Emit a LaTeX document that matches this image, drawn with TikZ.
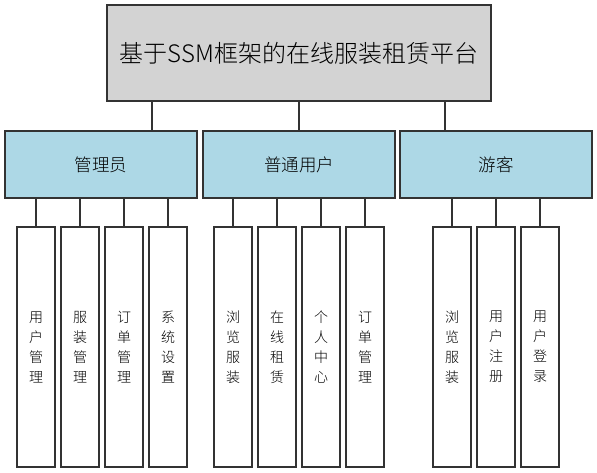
\documentclass[tikz,border=0pt]{standalone}
\usepackage{fontspec}
\setmainfont{Noto Sans CJK SC}[UprightFont={* Light}]
\definecolor{topfill}{HTML}{D3D3D3}
\definecolor{midfill}{HTML}{ADD8E6}
\definecolor{edge}{HTML}{333333}
\begin{document}
\begin{tikzpicture}[x=1pt,y=-1pt,
  box/.style={draw=edge,line width=1.2pt,inner sep=0pt,outer sep=0pt},
  topbox/.style={box,fill=topfill,minimum width=384pt,minimum height=96pt,font=\fontsize{24}{28}\selectfont},
  midbox/.style={box,fill=midfill,minimum width=192pt,minimum height=67pt,font=\fontsize{17.5}{21}\selectfont},
  leaf/.style={box,fill=white,minimum width=38pt,minimum height=240pt,align=center,font=\fontsize{14}{20}\selectfont},
  link/.style={draw=edge,line width=1.2pt}]
\useasboundingbox (0,0) rectangle (597,473);
\node[topbox] (top) at (299,53) {基于SSM框架的在线服装租赁平台};
\node[midbox] (m1) at (101,164.5) {管理员};
\node[midbox] (m2) at (299,164.5) {普通用户};
\node[midbox] (m3) at (496,164.5) {游客};
\node[leaf] (l1) at (36,347) {用\\户\\管\\理};
\node[leaf] (l2) at (80,347) {服\\装\\管\\理};
\node[leaf] (l3) at (124,347) {订\\单\\管\\理};
\node[leaf] (l4) at (168,347) {系\\统\\设\\置};
\node[leaf] (l5) at (233,347) {浏\\览\\服\\装};
\node[leaf] (l6) at (277,347) {在\\线\\租\\赁};
\node[leaf] (l7) at (321,347) {个\\人\\中\\心};
\node[leaf] (l8) at (365,347) {订\\单\\管\\理};
\node[leaf] (l9) at (452,347) {浏\\览\\服\\装};
\node[leaf] (l10) at (496,347) {用\\户\\注\\册};
\node[leaf] (l11) at (540,347) {用\\户\\登\\录};
\draw[link] ([xshift=51pt]m1.north) -- ([xshift=51pt]m1.north |- top.south);
\draw[link] (m2.north) -- (m2.north |- top.south);
\draw[link] ([xshift=-51pt]m3.north) -- ([xshift=-51pt]m3.north |- top.south);
\foreach \l in {l1,l2,l3,l4} \draw[link] (\l.north) -- (\l.north |- m1.south);
\foreach \l in {l5,l6,l7,l8} \draw[link] (\l.north) -- (\l.north |- m2.south);
\foreach \l in {l9,l10,l11} \draw[link] (\l.north) -- (\l.north |- m3.south);
\end{tikzpicture}
\end{document}
